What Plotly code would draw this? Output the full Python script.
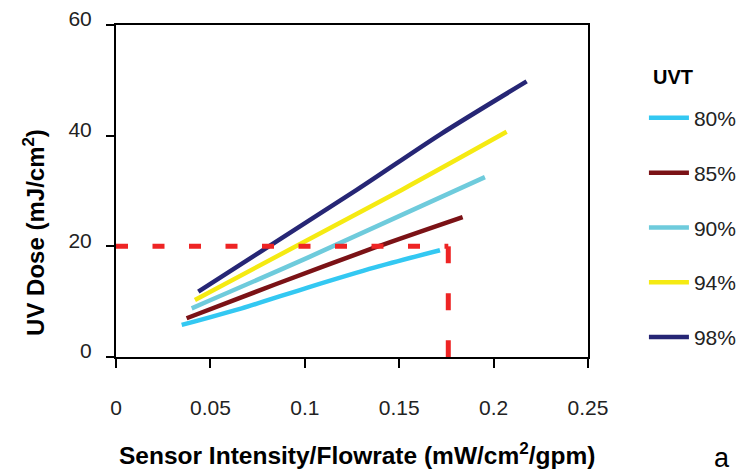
import plotly.graph_objects as go

# UVT series: Sensor Intensity/Flowrate (x) vs UV Dose (y)
uvt_labels = ["80%", "85%", "90%", "94%", "98%"]
uvt_colors = ["#33C8F2", "#7B1216", "#6ECBDC", "#F5EA12", "#262675"]

x_80 = [0.0348, 0.0666, 0.1019, 0.1372, 0.1716]
y_80 = [5.8, 8.8, 12.6, 16.2, 19.3]

x_85 = [0.0374, 0.0842, 0.1372, 0.1836]
y_85 = [7.0, 13.1, 19.8, 25.3]

x_90 = [0.0401, 0.1019, 0.1954]
y_90 = [8.8, 18.0, 32.5]

x_94 = [0.0418, 0.1513, 0.2069]
y_94 = [10.3, 30.2, 40.7]

x_98 = [0.0436, 0.1275, 0.1716, 0.2175]
y_98 = [11.8, 30.2, 40.2, 49.8]

series_x = [x_80, x_85, x_90, x_94, x_98]
series_y = [y_80, y_85, y_90, y_94, y_98]

# reference dose and sensor ratio (red dashed guide)
ref_dose = 20
ref_ratio = 0.176
guide_h_x = [0, ref_ratio]
guide_h_y = [ref_dose, ref_dose]
guide_v_x = [ref_ratio, ref_ratio]
guide_v_y = [ref_dose, 0]

x_ticks = [0, 0.05, 0.1, 0.15, 0.2, 0.25]
x_ticktext = ["0", "0.05", "0.1", "0.15", "0.2", "0.25"]
y_ticks = [0, 20, 40, 60]

FONT = "Arial, Liberation Sans, sans-serif"

fig = go.Figure()
for i, (lab, col, xs, ys) in enumerate(zip(uvt_labels, uvt_colors, series_x, series_y)):
    fig.add_trace(go.Scatter(
        x=xs, y=ys, mode="lines", name=lab,
        line=dict(color=col, width=4.5, shape="spline", smoothing=0.8),
        legendgroup=f"g{i}",
    ))

fig.add_trace(go.Scatter(x=guide_h_x, y=guide_h_y, mode="lines", showlegend=False,
                         line=dict(color="#EE2424", width=5, dash="12px,24.5px")))
fig.add_trace(go.Scatter(x=guide_v_x, y=guide_v_y, mode="lines", showlegend=False,
                         line=dict(color="#EE2424", width=5, dash="17px,30px")))

fig.update_layout(
    width=739, height=464,
    margin=dict(l=108, r=159, t=17, b=115, autoexpand=False),
    paper_bgcolor="white", plot_bgcolor="white",
    font=dict(family=FONT, size=21, color="#222222"),
    showlegend=True,
    legend=dict(
        x=1.1185, xanchor="left", y=0.781, yanchor="top",
        traceorder="grouped", tracegroupgap=24.5,
        itemwidth=40,
        font=dict(size=21, family=FONT, color="#222222"),
        bgcolor="rgba(0,0,0,0)",
    ),
    xaxis=dict(
        range=[0, 0.25], tickvals=x_ticks, ticktext=x_ticktext,
        showline=True, linecolor="black", linewidth=2, mirror=True,
        ticks="outside", ticklen=9, tickwidth=2, tickcolor="black",
        showgrid=False, zeroline=False,
        ticklabelstandoff=22,
        tickfont=dict(size=21, family=FONT, color="#222222"),
    ),
    yaxis=dict(
        range=[0, 60], tickvals=y_ticks,
        showline=True, linecolor="black", linewidth=2, mirror=True,
        ticks="outside", ticklen=8, tickwidth=2, tickcolor="black",
        showgrid=False, zeroline=False,
        ticklabelstandoff=10, ticklabelshift=-6, ticklabeloverflow="allow",
        tickfont=dict(size=21, family=FONT, color="#222222"),
    ),
    annotations=[
        dict(text="<b>Sensor Intensity/Flowrate (mW/cm<sup>2</sup>/gpm)</b>",
             xref="paper", yref="paper", x=0.51, y=-0.292, xanchor="center", yanchor="middle",
             showarrow=False, font=dict(size=24.5, family=FONT, color="#000000")),
        dict(text="<b>UV Dose (mJ/cm<sup>2</sup>)</b>", textangle=-90,
             xref="paper", yref="paper", x=-0.175, y=0.375, xanchor="center", yanchor="middle",
             showarrow=False, font=dict(size=24, family=FONT, color="#000000")),
        dict(text="<b>UVT</b>", xref="paper", yref="paper", x=1.1801, y=0.843,
             xanchor="center", yanchor="middle", showarrow=False,
             font=dict(size=20, family=FONT, color="#000000")),
        dict(text="a", xref="paper", yref="paper", x=1.283, y=-0.303,
             xanchor="center", yanchor="middle", showarrow=False,
             font=dict(size=27, family=FONT, color="#000000")),
    ],
)

fig.write_html("out.html")
